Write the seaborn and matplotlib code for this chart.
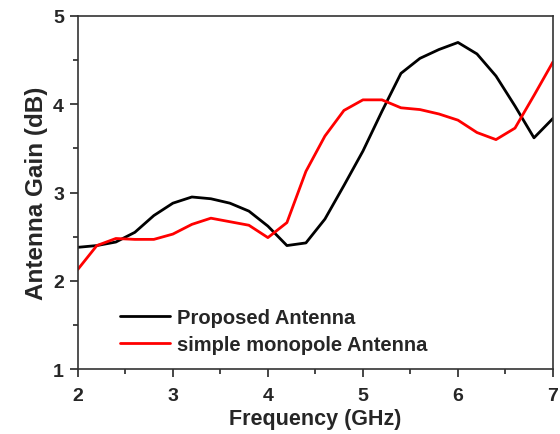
import matplotlib
matplotlib.use("Agg")
import matplotlib.pyplot as plt
import seaborn as sns
import pandas as pd
from matplotlib.ticker import MultipleLocator

freq = [2.0, 2.2, 2.4, 2.6, 2.8, 3.0, 3.2, 3.4, 3.6, 3.8, 4.0, 4.2, 4.4, 4.6,
        4.8, 5.0, 5.2, 5.4, 5.6, 5.8, 6.0, 6.2, 6.4, 6.6, 6.8, 7.0]
proposed = [2.38, 2.40, 2.44, 2.55, 2.74, 2.88, 2.95, 2.93, 2.88, 2.79, 2.62, 2.40, 2.43, 2.70,
            3.08, 3.47, 3.92, 4.35, 4.52, 4.62, 4.70, 4.57, 4.32, 3.98, 3.62, 3.84]
monopole = [2.13, 2.40, 2.48, 2.47, 2.47, 2.53, 2.64, 2.71, 2.67, 2.63, 2.49, 2.66, 3.24, 3.64,
            3.93, 4.05, 4.05, 3.96, 3.94, 3.89, 3.82, 3.68, 3.60, 3.73, 4.10, 4.48]
series_names = ["Proposed Antenna", "simple monopole Antenna"]
colors = ["black", "#ff0000"]

df = pd.concat([
    pd.DataFrame({"Frequency": freq, "Gain": proposed, "Series": series_names[0]}),
    pd.DataFrame({"Frequency": freq, "Gain": monopole, "Series": series_names[1]}),
])

sns.set_style("ticks")
plt.rcParams["font.family"] = ["Liberation Sans", "DejaVu Sans"]
plt.rcParams["font.weight"] = "bold"

fig = plt.figure(figsize=(5.6, 4.35), dpi=100)
ax = fig.add_axes([0.139, 0.149, 0.8485, 0.812])
sns.lineplot(data=df, x="Frequency", y="Gain", hue="Series", palette=colors,
             linewidth=2.0, ax=ax)

ax.set_xlim(2, 7)
ax.set_ylim(1, 5)
ax.xaxis.set_major_locator(MultipleLocator(1))
ax.xaxis.set_minor_locator(MultipleLocator(0.5))
ax.yaxis.set_major_locator(MultipleLocator(1))
ax.yaxis.set_minor_locator(MultipleLocator(0.5))
ax.tick_params(which="major", direction="out", length=6, width=1.2, labelsize=14, pad=4)
ax.tick_params(axis="x", which="major", pad=7)
ax.tick_params(which="minor", direction="out", length=3.5, width=1.2)
for lab in ax.get_xticklabels() + ax.get_yticklabels():
    lab.set_fontweight("bold")
for s in ax.spines.values():
    s.set_linewidth(1.2)
    s.set_color("#333333")

ax.set_xlabel("Frequency (GHz)", fontsize=15.5, fontweight="bold", labelpad=3)
ax.set_ylabel("Antenna Gain (dB)", fontsize=17.5, fontweight="bold", labelpad=4)

leg = ax.legend(loc="upper left", bbox_to_anchor=(0.088, 0.173), frameon=False,
                borderpad=0, borderaxespad=0,
                prop={"weight": "bold", "size": 14.5}, handlelength=2.5,
                handletextpad=0.35, labelspacing=0.4)

fig.savefig("out.png", dpi=100)
